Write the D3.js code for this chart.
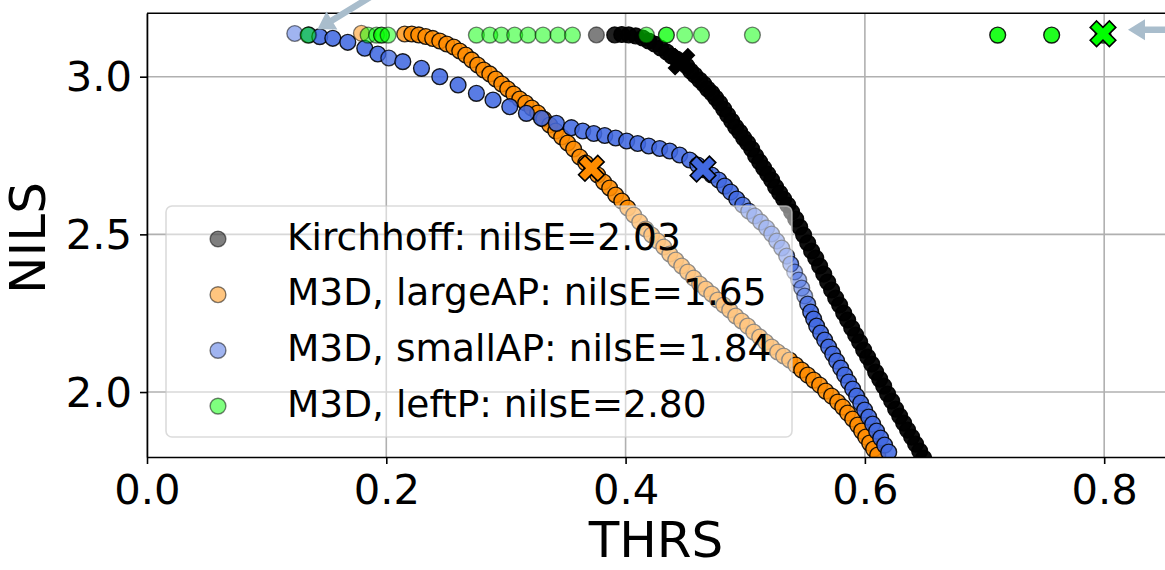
<!DOCTYPE html>
<html><head><meta charset="utf-8">
<script src="https://cdn.jsdelivr.net/npm/d3@7"></script>
<style>html,body{margin:0;padding:0;background:#fff}svg{display:block}text{font-family:"DejaVu Sans",sans-serif}</style>
</head><body><svg id="c" width="1165" height="570"></svg>
<script>
// ---- data (x = THRS, y = NILS, n = overlapping samples) ----
const xTicks=[0,0.2,0.4,0.6,0.8];
const yTicks=[2.0,2.5,3.0];
const seriesNames=["Kirchhoff","M3D, largeAP","M3D, smallAP","M3D, leftP"];
const nilsE=[2.03,1.65,1.84,2.80];
const seriesColors=["#000000","#ff8c00","#4169e1","#00ff00"];
const kirchPts=[[0.3756,3.1323,1],[0.3909,3.1323,3],[0.3968,3.1338,4],[0.4026,3.1323,4],[0.4085,3.1291,4],[0.4143,3.1227,4],[0.4193,3.1132,4],[0.4243,3.1037,4],[0.4293,3.0910,4],[0.4344,3.0783,4],[0.4385,3.0656,4],[0.4427,3.0561,4],[0.4469,3.0466,4],[0.4511,3.0339,4],[0.4544,3.0181,4],[0.4578,3.0054,4],[0.4619,2.9895,4],[0.4653,2.9768,4],[0.4686,2.9610,4],[0.4720,2.9483,4],[0.4753,2.9324,4],[0.4786,2.9166,4],[0.4820,2.8976,4],[0.4853,2.8785,4],[0.4887,2.8595,4],[0.4920,2.8405,4],[0.4954,2.8246,4],[0.4987,2.8056,4],[0.5020,2.7897,4],[0.5054,2.7707,4],[0.5087,2.7485,4],[0.5121,2.7294,4],[0.5154,2.7104,4],[0.5188,2.6914,4],[0.5221,2.6724,4],[0.5254,2.6502,4],[0.5288,2.6311,4],[0.5321,2.6121,4],[0.5355,2.5931,4],[0.5388,2.5709,4],[0.5422,2.5487,4],[0.5455,2.5233,4],[0.5488,2.4979,4],[0.5522,2.4726,4],[0.5555,2.4472,4],[0.5589,2.4250,4],[0.5622,2.3996,4],[0.5656,2.3742,4],[0.5689,2.3489,4],[0.5722,2.3235,4],[0.5756,2.2981,4],[0.5789,2.2759,4],[0.5823,2.2506,4],[0.5856,2.2284,4],[0.5890,2.2030,4],[0.5923,2.1808,4],[0.5956,2.1586,4],[0.5990,2.1332,4],[0.6023,2.1110,4],[0.6057,2.0888,4],[0.6090,2.0634,4],[0.6124,2.0412,4],[0.6157,2.0190,4],[0.6190,1.9937,4],[0.6224,1.9715,4],[0.6257,1.9461,4],[0.6291,1.9239,4],[0.6324,1.9017,4],[0.6357,1.8795,4],[0.6391,1.8573,4],[0.6424,1.8351,4],[0.6458,1.8129,4],[0.6491,1.7907,4]];
const largePts=[[0.1792,3.1376,1],[0.2154,3.1354,2],[0.2213,3.1354,3],[0.2271,3.1323,3],[0.2330,3.1275,3],[0.2388,3.1212,3],[0.2447,3.1132,3],[0.2505,3.1037,3],[0.2564,3.0942,3],[0.2614,3.0815,3],[0.2664,3.0688,3],[0.2714,3.0530,3],[0.2764,3.0371,3],[0.2814,3.0212,3],[0.2865,3.0086,3],[0.2915,2.9927,3],[0.2965,2.9768,3],[0.3015,2.9610,3],[0.3065,2.9451,3],[0.3115,2.9293,3],[0.3165,2.9166,3],[0.3216,2.9007,3],[0.3266,2.8849,3],[0.3316,2.8658,3],[0.3366,2.8468,3],[0.3416,2.8278,3],[0.3466,2.8088,3],[0.3516,2.7897,3],[0.3566,2.7707,3],[0.3617,2.7453,3],[0.3667,2.7263,3],[0.3717,2.7073,3],[0.3767,2.6882,3],[0.3817,2.6660,3],[0.3867,2.6470,3],[0.3917,2.6248,3],[0.3968,2.6058,3],[0.4018,2.5836,3],[0.4068,2.5614,3],[0.4118,2.5392,3],[0.4168,2.5170,3],[0.4218,2.4979,3],[0.4268,2.4789,3],[0.4319,2.4599,3],[0.4369,2.4377,3],[0.4419,2.4186,3],[0.4469,2.3996,3],[0.4519,2.3806,3],[0.4569,2.3615,3],[0.4619,2.3425,3],[0.4670,2.3267,3],[0.4720,2.3108,3],[0.4770,2.2918,3],[0.4820,2.2759,3],[0.4870,2.2601,3],[0.4920,2.2411,3],[0.4970,2.2252,3],[0.5020,2.2093,3],[0.5071,2.1903,3],[0.5121,2.1745,3],[0.5171,2.1586,3],[0.5221,2.1427,3],[0.5271,2.1269,3],[0.5321,2.1142,3],[0.5371,2.1015,3],[0.5422,2.0856,3],[0.5472,2.0698,3],[0.5522,2.0539,3],[0.5572,2.0380,3],[0.5622,2.0222,3],[0.5672,2.0031,3],[0.5722,1.9873,3],[0.5773,1.9683,3],[0.5815,1.9524,3],[0.5856,1.9334,3],[0.5898,1.9144,3],[0.5940,1.8953,3],[0.5973,1.8763,3],[0.6007,1.8573,3],[0.6040,1.8382,3],[0.6073,1.8192,3],[0.6107,1.8002,3]];
const smallPts=[[0.1235,3.1370,1],[0.1352,3.1323,3],[0.1444,3.1269,3],[0.1553,3.1218,3],[0.1678,3.1091,3],[0.1820,3.0901,3],[0.1929,3.0720,3],[0.2021,3.0593,2],[0.2138,3.0476,3],[0.2294,3.0266,3],[0.2447,3.0000,3],[0.2600,2.9737,3],[0.2753,2.9473,3],[0.2892,2.9261,3],[0.3032,2.9049,3],[0.3171,2.8839,3],[0.3297,2.8681,3],[0.3422,2.8522,3],[0.3547,2.8382,3],[0.3642,2.8278,3],[0.3734,2.8199,3],[0.3826,2.8135,3],[0.3917,2.8056,3],[0.4009,2.7961,3],[0.4101,2.7881,3],[0.4193,2.7802,3],[0.4285,2.7723,3],[0.4369,2.7643,3],[0.4452,2.7517,3],[0.4536,2.7358,3],[0.4603,2.7199,3],[0.4661,2.7041,3],[0.4720,2.6882,3],[0.4778,2.6724,3],[0.4828,2.6532,3],[0.4878,2.6342,3],[0.4929,2.6121,3],[0.4979,2.5931,2],[0.5029,2.5740,2],[0.5079,2.5582,2],[0.5129,2.5391,2],[0.5179,2.5201,2],[0.5221,2.5011,2],[0.5263,2.4789,2],[0.5305,2.4567,2],[0.5346,2.4313,2],[0.5380,2.4059,2],[0.5413,2.3806,1],[0.5447,2.3552,1],[0.5472,2.3298,1],[0.5497,2.3045,1],[0.5522,2.2791,2],[0.5547,2.2537,3],[0.5572,2.2315,3],[0.5597,2.2093,3],[0.5630,2.1871,3],[0.5664,2.1649,3],[0.5697,2.1427,3],[0.5731,2.1205,3],[0.5764,2.0983,3],[0.5798,2.0761,3],[0.5831,2.0539,3],[0.5864,2.0317,3],[0.5898,2.0095,3],[0.5931,1.9873,3],[0.5965,1.9651,3],[0.5998,1.9429,3],[0.6032,1.9207,3],[0.6065,1.8985,3],[0.6098,1.8763,3],[0.6132,1.8541,3],[0.6165,1.8319,3],[0.6199,1.8097,3]];
const leftPts=[[0.1346,3.132,1],[0.1848,3.132,1],[0.1918,3.132,1],[0.1960,3.132,2],[0.2015,3.132,1],[0.2753,3.132,1],[0.2865,3.132,1],[0.2962,3.132,1],[0.3073,3.132,1],[0.3185,3.132,1],[0.3310,3.132,1],[0.3435,3.132,1],[0.3556,3.132,1],[0.4174,3.132,1],[0.4341,3.132,2],[0.4494,3.132,1],[0.4634,3.132,1],[0.5060,3.132,1],[0.7110,3.132,3],[0.7561,3.132,3],[0.7990,3.132,2]];
const bestX=[0.4467,0.3714,0.4647,0.7990];
const bestY=[3.0476,2.7095,2.7073,3.136];

// ---- chart ----
const svg=d3.select("#c");
const L=147,R=1167,T=13.3,B=457;
const x=d3.scaleLinear().domain([0,0.8525]).range([L,R]);
const y=d3.scaleLinear().domain([1.794,3.201]).range([B,T]);
const TICK_FS=41.7, LAB_FS=50, LEG_FS=37.5;

svg.append("rect").attr("width",1165).attr("height",570).attr("fill","#fff");
const grid=svg.append("g");
grid.selectAll(".gx").data(xTicks).join("line").attr("x1",d=>x(d)).attr("x2",d=>x(d)).attr("y1",B).attr("y2",T).attr("stroke","#b0b0b0").attr("stroke-width",1.6);
grid.selectAll(".gy").data(yTicks).join("line").attr("x1",L).attr("x2",R).attr("y1",d=>y(d)).attr("y2",d=>y(d)).attr("stroke","#b0b0b0").attr("stroke-width",1.6);

svg.append("clipPath").attr("id","clip").append("rect").attr("x",L).attr("y",T).attr("width",R-L).attr("height",B-T);
const plot=svg.append("g").attr("clip-path","url(#clip)");
const alphaN=n=>1-Math.pow(0.5,n);
[kirchPts,largePts,smallPts,leftPts].forEach((pts,i)=>{
  plot.append("g").selectAll("circle").data(pts).join("circle")
    .attr("cx",d=>x(d[0])).attr("cy",d=>y(d[1])).attr("r",7.9)
    .attr("fill",seriesColors[i]).attr("fill-opacity",d=>alphaN(d[2]))
    .attr("stroke","#000").attr("stroke-opacity",d=>alphaN(d[2])).attr("stroke-width",1.4);
});
// X markers
const k=6.4;
const xv=[[-1,-2],[0,-1],[1,-2],[2,-1],[1,0],[2,1],[1,2],[0,1],[-1,2],[-2,1],[-1,0],[-2,-1]];
const xPath="M"+xv.map(p=>(p[0]*k)+","+(p[1]*k)).join("L")+"Z";
plot.append("g").selectAll("path").data(bestX.map((v,i)=>[v,bestY[i],i])).join("path")
  .attr("d",xPath).attr("transform",d=>`translate(${x(d[0])},${y(d[1])})`)
  .attr("fill",d=>seriesColors[d[2]]).attr("stroke","#000").attr("stroke-width",1.6).attr("stroke-linejoin","miter");

// axes
const ya=svg.append("g").attr("transform",`translate(${L},0)`)
  .call(d3.axisLeft(y).tickValues(yTicks).tickFormat(d3.format(".1f")).tickSize(7).tickSizeOuter(0).tickPadding(8));
const xa=svg.append("g").attr("transform",`translate(0,${B})`)
  .call(d3.axisBottom(x).tickValues(xTicks).tickFormat(d3.format(".1f")).tickSize(7).tickSizeOuter(0).tickPadding(8));
[ya,xa].forEach(a=>{a.attr("font-family",null).attr("font-size",null);
  a.selectAll("text").style("font-size",TICK_FS+"px").attr("fill","#000");
  a.selectAll("line").attr("stroke","#000").attr("stroke-width",1.6);
  a.select(".domain").attr("stroke","#000").attr("stroke-width",1.6);});
xa.selectAll("text").attr("dy",null).attr("y",47);
ya.selectAll("text").attr("dy","0.34em");
svg.append("line").attr("x1",L).attr("x2",R).attr("y1",T).attr("y2",T).attr("stroke","#000").attr("stroke-width",1.6);
svg.append("line").attr("x1",R).attr("x2",R).attr("y1",T).attr("y2",B).attr("stroke","#000").attr("stroke-width",1.6);

svg.append("text").attr("x",656).attr("y",557).attr("text-anchor","middle").style("font-size",LAB_FS+"px").text("THRS");
svg.append("text").attr("transform","translate(45,238) rotate(-90)").attr("text-anchor","middle").style("font-size",LAB_FS+"px").text("NILS");

// annotation arrows
function arrow(tx,ty,ux,uy){
  const hl=17,hw=10.5,sw=3.2,len=260;
  const px=-uy,py=ux;
  const bx=tx+hl*ux,by=ty+hl*uy,ex=tx+len*ux,ey=ty+len*uy;
  const pts=[[tx,ty],[bx+hw*px,by+hw*py],[bx+sw*px,by+sw*py],[ex+sw*px,ey+sw*py],[ex-sw*px,ey-sw*py],[bx-sw*px,by-sw*py],[bx-hw*px,by-hw*py]];
  svg.append("path").attr("d","M"+pts.map(p=>p.join(",")).join("L")+"Z").attr("fill","#a9bdcc");
}
{ const tx=x(leftPts[0][0]),ty=y(leftPts[0][1]); const ux=0.853,uy=-0.521; arrow(tx+11*ux,ty+11*uy,ux,uy); }
{ arrow(x(bestX[3])+25,y(bestY[3])-4,1,0); }

// legend
const lg=svg.append("g");
lg.append("rect").attr("x",166).attr("y",206).attr("width",626).attr("height",231).attr("rx",6)
  .attr("fill","#fff").attr("fill-opacity",0.5).attr("stroke","#cccccc").attr("stroke-opacity",0.7).attr("stroke-width",1.6);
seriesNames.forEach((nm,i)=>{
  const cy=239+i*55.7;
  lg.append("circle").attr("cx",218).attr("cy",cy).attr("r",7.9).attr("fill",seriesColors[i]).attr("fill-opacity",0.5)
    .attr("stroke","#000").attr("stroke-opacity",0.5).attr("stroke-width",1.4);
  lg.append("text").attr("x",287).attr("y",cy+10.5).style("font-size",LEG_FS+"px").text(`${nm}: nilsE=${nilsE[i].toFixed(2)}`);
});
</script></body></html>
